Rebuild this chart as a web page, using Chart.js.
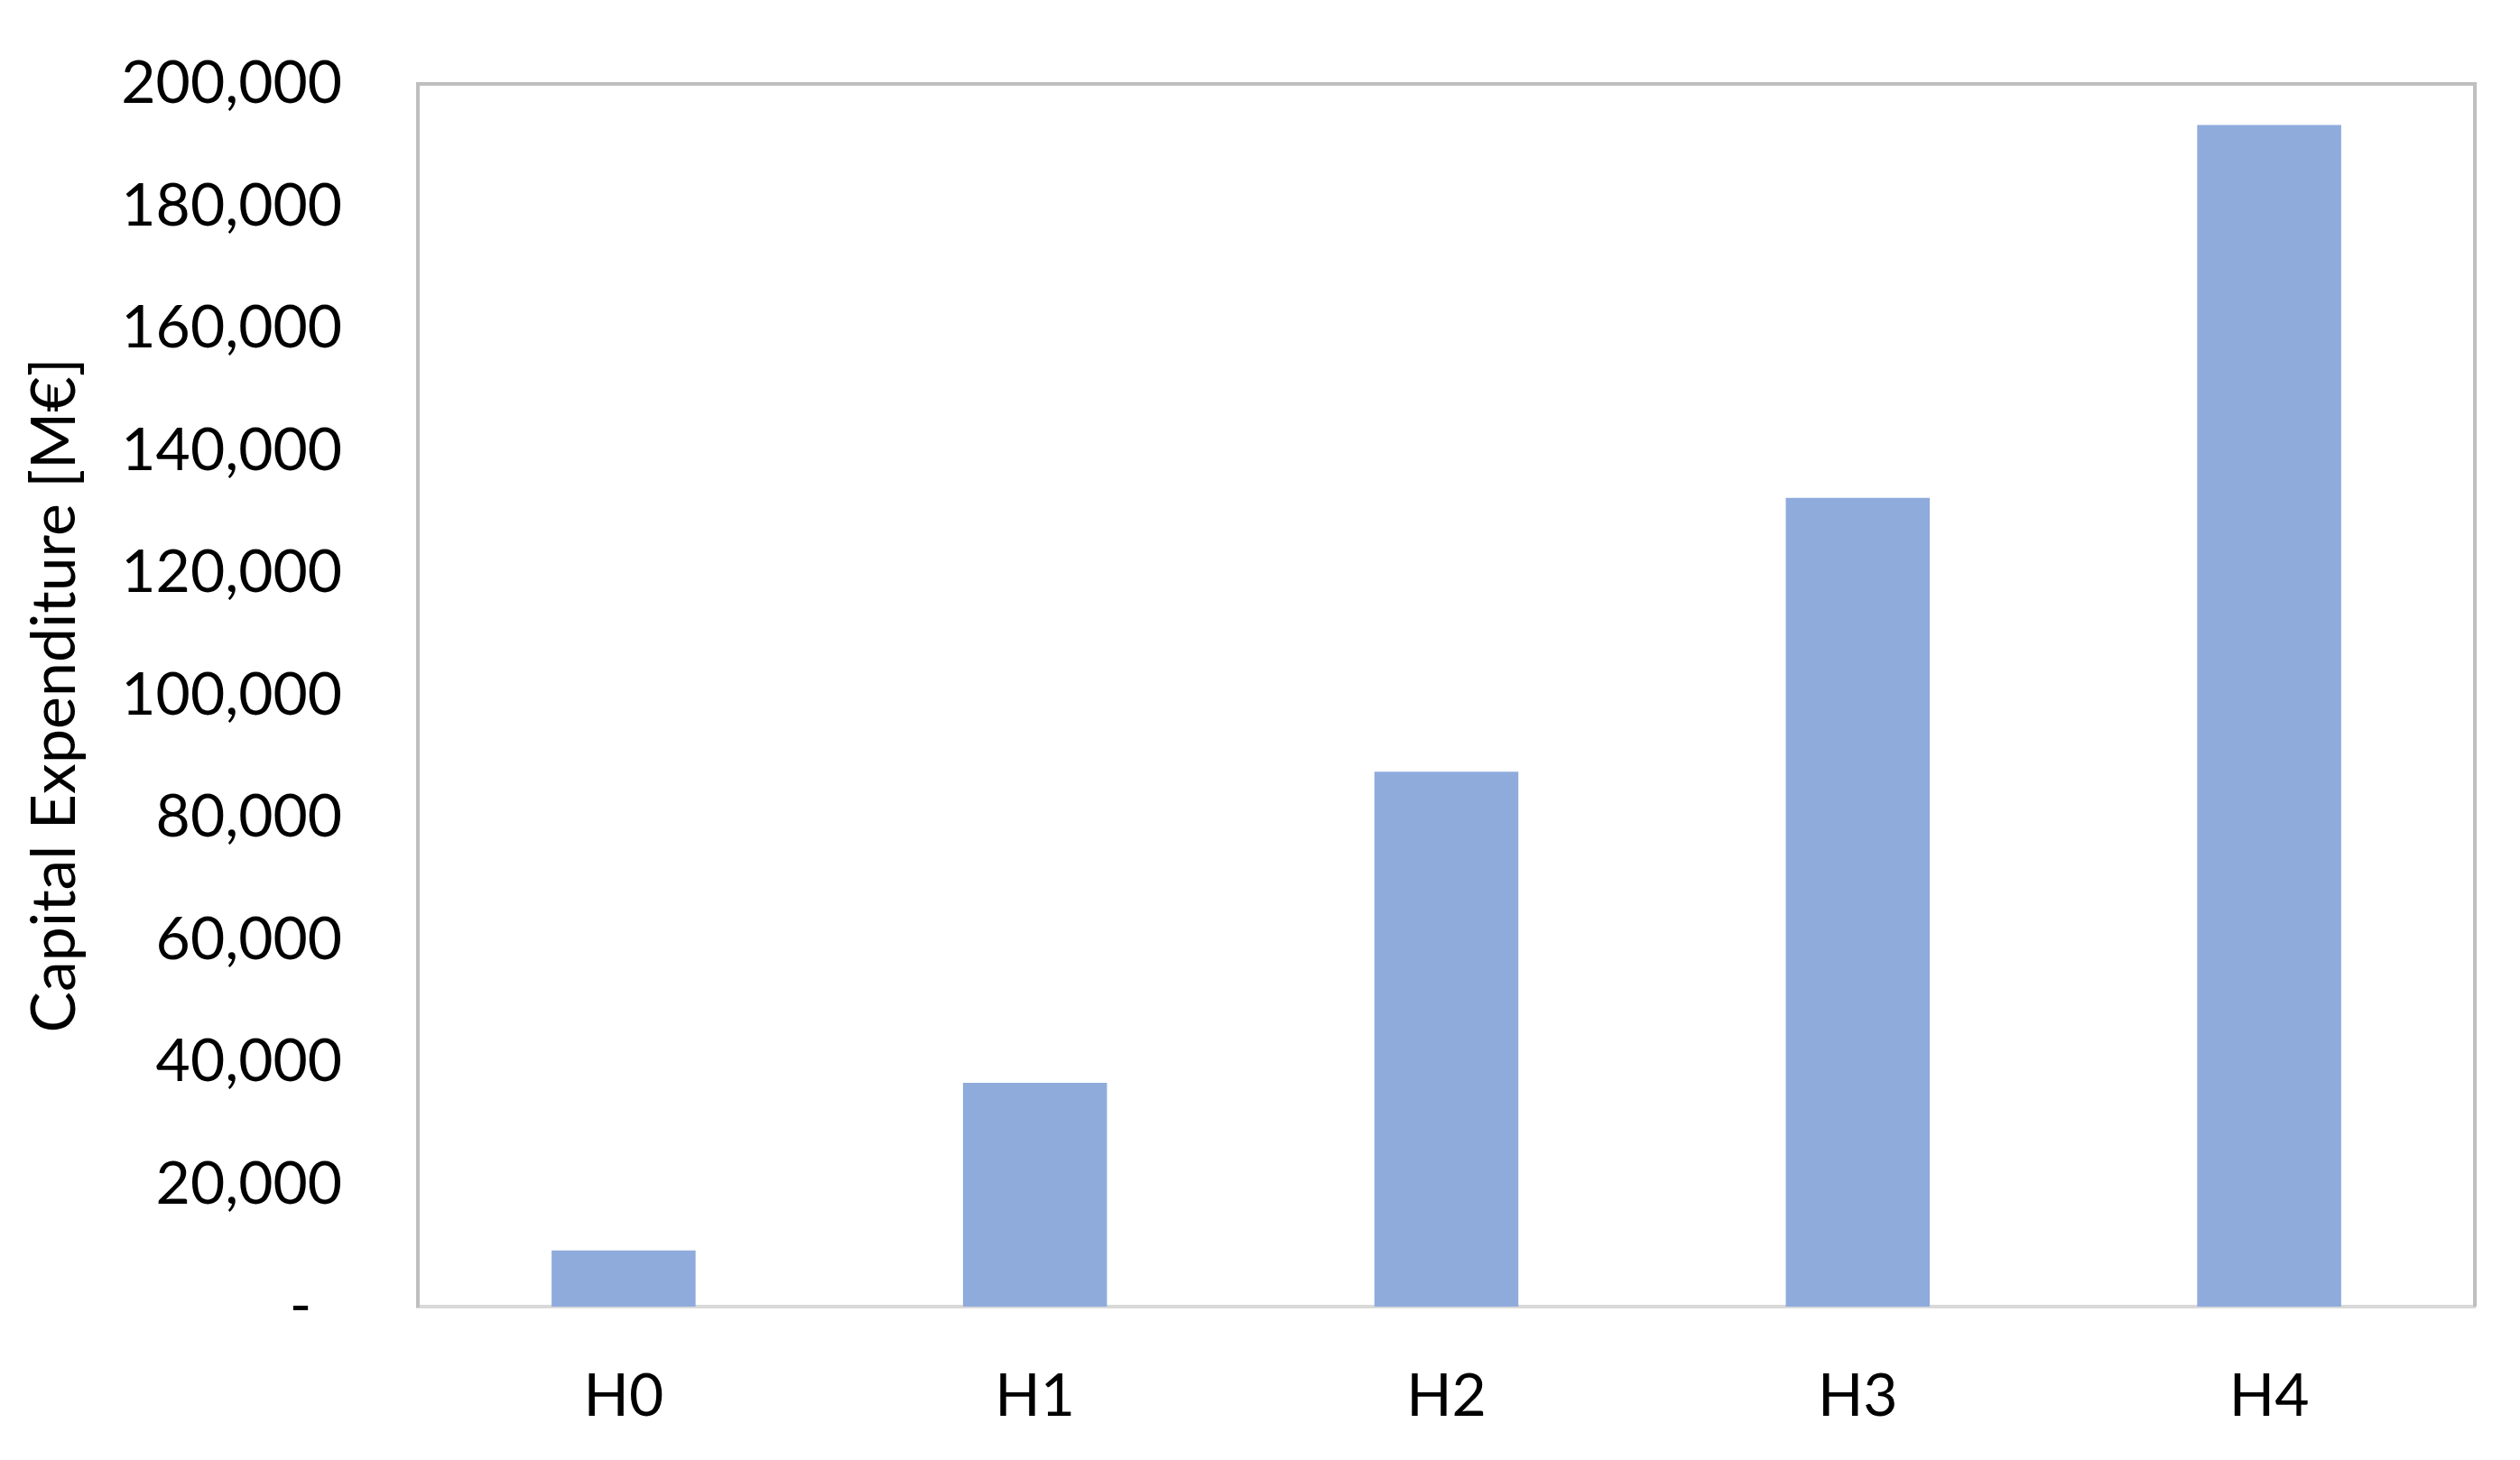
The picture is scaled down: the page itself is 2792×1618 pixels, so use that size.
<!DOCTYPE html>
<html>
<head>
<meta charset="utf-8">
<title>Capital Expenditure</title>
<script src="https://cdn.jsdelivr.net/npm/chart.js@4.4.1/dist/chart.umd.min.js"></script>
<style>
  body { margin: 0; background: #ffffff; }
  #wrap { width: 2792px; height: 1618px; }
</style>
</head>
<body>
<div id="wrap"><canvas id="canvas-capex" width="2792" height="1618"></canvas></div>
<script>
// Datos del grafico
var categorias = ['H0', 'H1', 'H2', 'H3', 'H4'];
var capex = [9200, 36600, 87500, 132300, 193300];
var ticksY = [0, 20000, 40000, 60000, 80000, 100000, 120000, 140000, 160000, 180000, 200000];

var fuente = 'Lato, "Open Sans", "Liberation Sans", sans-serif';

// Borde de arriba y derecha del area de trazado (como en Excel)
var bordeArea = {
    id: 'bordeArea',
    afterDraw: function(chart) {
        var a = chart.chartArea;
        var ctx = chart.ctx;
        ctx.save();
        ctx.strokeStyle = '#bfbfbf';
        ctx.lineWidth = 4;
        ctx.beginPath();
        ctx.moveTo(a.left - 2, a.top);
        ctx.lineTo(a.right, a.top);
        ctx.lineTo(a.right, a.bottom);
        ctx.stroke();
        ctx.restore();
    }
};

Chart.defaults.font.family = fuente;
Chart.defaults.color = '#000000';

var barChart = new Chart(document.getElementById('canvas-capex'), {
    type: 'bar',
    data: {
      labels: categorias,
      datasets: [{
        label: 'Capital Expenditure',
        data: capex,
        backgroundColor: '#8fabdc',
        borderWidth: 0,
        categoryPercentage: 1.0,
        barPercentage: 0.35
      }]
    },
    options: {
      responsive: false,
      animation: false,
      devicePixelRatio: 1,
      layout: { padding: { left: 0, top: 93, right: 50, bottom: 0 } },
      plugins: {
        legend: { display: false },
        tooltip: { enabled: false }
      },
      scales: {
        x: {
          grid: { display: false },
          border: { display: true, color: '#d9d9d9', width: 4 },
          ticks: { font: { size: 66 }, padding: 52 },
          afterFit: function(scale) {
            scale.height = 170;
            scale.paddingLeft = 0;
            scale.paddingRight = 0;
          }
        },
        y: {
          min: 0,
          max: 200000,
          afterBuildTicks: function(scale) {
            scale.ticks = ticksY.map(function(v) { return { value: v }; });
          },
          grid: { display: false },
          border: { display: true, color: '#bfbfbf', width: 4 },
          ticks: {
            font: { size: 66 },
            padding: 76,
            callback: function(v) {
              if (v === 0) return '-  ';
              return v.toLocaleString('en-US');
            }
          },
          title: {
            display: true,
            text: 'Capital Expenditure [M€]',
            font: { size: 68 },
            padding: { top: 20, bottom: 0 }
          },
          afterFit: function(scale) {
            scale.width = 463;
            scale.paddingTop = 0;
            scale.paddingBottom = 0;
          }
        }
      }
    },
    plugins: [bordeArea]
});
</script>
</body>
</html>
